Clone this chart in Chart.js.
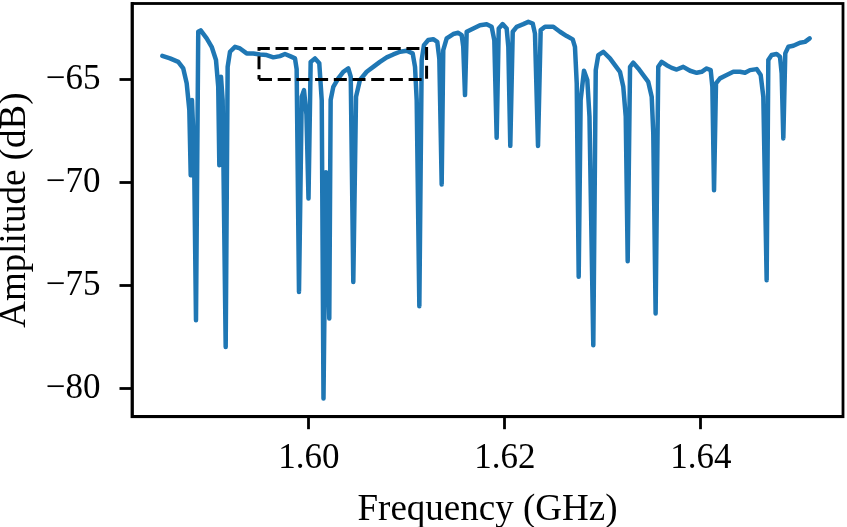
<!DOCTYPE html>
<html>
<head>
<meta charset="utf-8">
<script src="https://cdn.jsdelivr.net/npm/chart.js@4.4.1/dist/chart.umd.min.js"></script>
<style>
  html, body { margin: 0; padding: 0; background: #fff; }
  #wrap { width: 847px; height: 527px; }
</style>
</head>
<body>
<div id="wrap"><canvas id="c" width="847" height="527"></canvas></div>
<script>
// Frequency (GHz) and amplitude (dB)
const freq = [
  1.58503, 1.58582, 1.58666, 1.58717, 1.58752, 1.58779, 1.58793, 1.58806, 1.58827, 1.58847,
  1.58870, 1.58895, 1.58956, 1.59007, 1.59051, 1.59074, 1.59085, 1.59102, 1.59119, 1.59150,
  1.59170, 1.59194, 1.59245, 1.59296, 1.59364, 1.59432, 1.59500, 1.59568, 1.59636, 1.59704,
  1.59755, 1.59806, 1.59857, 1.59874, 1.59898, 1.59926, 1.59949, 1.59974, 1.59995, 1.60017,
  1.60061, 1.60105, 1.60130, 1.60148, 1.60173, 1.60207, 1.60221, 1.60248, 1.60299, 1.60350,
  1.60401, 1.60426, 1.60452, 1.60480, 1.60520, 1.60589, 1.60656, 1.60724, 1.60793, 1.60860,
  1.60929, 1.60997, 1.61058, 1.61082, 1.61099, 1.61126, 1.61150, 1.61173, 1.61217, 1.61268,
  1.61309, 1.61330, 1.61354, 1.61370, 1.61405, 1.61472, 1.61523, 1.61558, 1.61574, 1.61592,
  1.61609, 1.61677, 1.61745, 1.61813, 1.61864, 1.61891, 1.61915, 1.61936, 1.61976, 1.62017,
  1.62034, 1.62054, 1.62079, 1.62119, 1.62187, 1.62238, 1.62283, 1.62306, 1.62337, 1.62364,
  1.62408, 1.62493, 1.62561, 1.62630, 1.62691, 1.62714, 1.62732, 1.62752, 1.62772, 1.62806,
  1.62840, 1.62862, 1.62901, 1.62926, 1.62952, 1.63003, 1.63071, 1.63122, 1.63173, 1.63207,
  1.63232, 1.63252, 1.63276, 1.63309, 1.63360, 1.63411, 1.63462, 1.63497, 1.63513, 1.63537,
  1.63564, 1.63599, 1.63650, 1.63701, 1.63752, 1.63819, 1.63888, 1.63956, 1.64007, 1.64058,
  1.64099, 1.64116, 1.64133, 1.64153, 1.64194, 1.64262, 1.64330, 1.64398, 1.64449, 1.64500,
  1.64568, 1.64609, 1.64636, 1.64670, 1.64687, 1.64721, 1.64772, 1.64806, 1.64823, 1.64840,
  1.64860, 1.64891, 1.64942, 1.65010, 1.65061, 1.65109
];
const amp = [
  -63.86, -63.98, -64.15, -64.47, -65.19, -66.49, -69.64, -66.00, -68.50, -76.67,
  -62.69, -62.62, -63.01, -63.42, -64.06, -65.36, -69.16, -64.87, -66.00, -77.97,
  -64.39, -63.66, -63.42, -63.50, -63.74, -63.74, -63.79, -63.82, -63.93, -63.87,
  -63.77, -63.87, -63.98, -64.50, -75.30, -65.84, -65.52, -66.70, -70.77, -64.15,
  -63.98, -64.22, -66.00, -80.47, -69.50, -76.59, -66.00, -65.36, -64.95, -64.63,
  -64.47, -64.87, -74.82, -65.84, -65.03, -64.63, -64.39, -64.15, -63.93, -63.79,
  -63.66, -63.61, -63.74, -64.39, -66.00, -75.99, -64.06, -63.34, -63.09, -63.05,
  -63.18, -64.00, -70.09, -63.58, -63.01, -62.80, -62.74, -62.85, -63.42, -65.76,
  -62.69, -62.53, -62.37, -62.33, -62.45, -63.10, -67.83, -62.53, -62.32, -62.53,
  -63.42, -68.22, -62.69, -62.45, -62.32, -62.21, -62.29, -62.78, -68.23, -62.61,
  -62.45, -62.45, -62.69, -62.90, -63.06, -63.42, -65.19, -74.57, -66.00, -64.58,
  -65.03, -66.80, -77.89, -64.55, -63.82, -63.66, -63.98, -64.31, -64.63, -65.36,
  -66.80, -73.81, -64.39, -64.19, -64.47, -64.79, -65.12, -65.84, -67.60, -76.35,
  -64.39, -64.15, -64.31, -64.44, -64.52, -64.39, -64.58, -64.68, -64.63, -64.47,
  -64.55, -65.36, -70.37, -65.19, -64.95, -64.79, -64.63, -64.63, -64.68, -64.55,
  -64.50, -64.79, -65.84, -74.73, -64.06, -63.82, -63.77, -63.90, -64.70, -67.86,
  -63.74, -63.42, -63.37, -63.22, -63.18, -63.01
];
// Dashed highlight box (data coordinates)
const boxX = [1.5949, 1.6120, 1.6120, 1.5949, 1.5949];
const boxY = [-65.0, -65.0, -63.5, -63.5, -65.0];
// Tick values and labels
const xTicks = [1.60, 1.62, 1.64];
const xTickLabels = ['1.60', '1.62', '1.64'];
const yTicks = [-80, -75, -70, -65];
const yTickLabels = ['\u221280', '\u221275', '\u221270', '\u221265'];

const curveData = freq.map((f, i) => ({ x: f, y: amp[i] }));
const boxData = boxX.map((f, i) => ({ x: f, y: boxY[i] }));

const SERIF = '"Liberation Serif", "DejaVu Serif", serif';

const framePlugin = {
  id: 'frame',
  afterDraw(chart) {
    const { ctx, chartArea: a } = chart;
    ctx.save();
    ctx.strokeStyle = '#000';
    ctx.lineWidth = 2.8;
    ctx.strokeRect(a.left, a.top, a.right - a.left, a.bottom - a.top);
    ctx.restore();
  }
};

new Chart(document.getElementById('c'), {
  type: 'line',
  data: {
    datasets: [
      {
        data: boxData,
        borderColor: '#000',
        borderWidth: 3,
        borderDash: [13, 5.7],
        pointRadius: 0,
        tension: 0,
        fill: false,
        order: 0
      },
      {
        data: curveData,
        borderColor: '#1f77b4',
        borderWidth: 4.5,
        pointRadius: 0,
        tension: 0,
        fill: false,
        borderJoinStyle: 'round',
        borderCapStyle: 'round',
        order: 1
      }
    ]
  },
  plugins: [framePlugin],
  options: {
    responsive: false,
    animation: false,
    devicePixelRatio: 1,
    layout: { padding: { left: 0, right: 4, top: 3.5, bottom: 0 } },
    plugins: { legend: { display: false }, tooltip: { enabled: false } },
    scales: {
      x: {
        type: 'linear',
        min: 1.58194,
        max: 1.65449,
        afterBuildTicks(scale) { scale.ticks = xTicks.map(v => ({ value: v })); },
        afterFit(scale) { scale.height = 110.3; scale.paddingLeft = 0; scale.paddingRight = 0; },
        grid: { drawOnChartArea: false, drawTicks: true, tickLength: 12.5, tickWidth: 2.8, tickColor: '#000' },
        border: { display: true, color: '#000', width: 2.8 },
        ticks: {
          color: '#000',
          font: { family: SERIF, size: 35 },
          padding: 9,
          maxRotation: 0,
          autoSkip: false,
          callback(value) { const i = xTicks.findIndex(t => Math.abs(t - value) < 1e-9); return i >= 0 ? xTickLabels[i] : ''; }
        },
        title: {
          display: true,
          text: 'Frequency (GHz)',
          color: '#000',
          font: { family: SERIF, size: 37, lineHeight: 0.88 },
          padding: 0
        }
      },
      y: {
        type: 'linear',
        min: -81.35,
        max: -61.32,
        afterBuildTicks(scale) { scale.ticks = yTicks.map(v => ({ value: v })); },
        afterFit(scale) { scale.width = 132; scale.paddingTop = 0; scale.paddingBottom = 0; },
        grid: { drawOnChartArea: false, drawTicks: true, tickLength: 12.5, tickWidth: 2.8, tickColor: '#000' },
        border: { display: true, color: '#000', width: 2.8 },
        ticks: {
          color: '#000',
          font: { family: SERIF, size: 35 },
          padding: 19,
          autoSkip: false,
          callback(value) { const i = yTicks.findIndex(t => Math.abs(t - value) < 1e-9); return i >= 0 ? yTickLabels[i] : ''; }
        },
        title: {
          display: true,
          text: 'Amplitude (dB)',
          color: '#000',
          font: { family: SERIF, size: 37, lineHeight: 0.8 },
          padding: 0
        }
      }
    }
  }
});
</script>
</body>
</html>
